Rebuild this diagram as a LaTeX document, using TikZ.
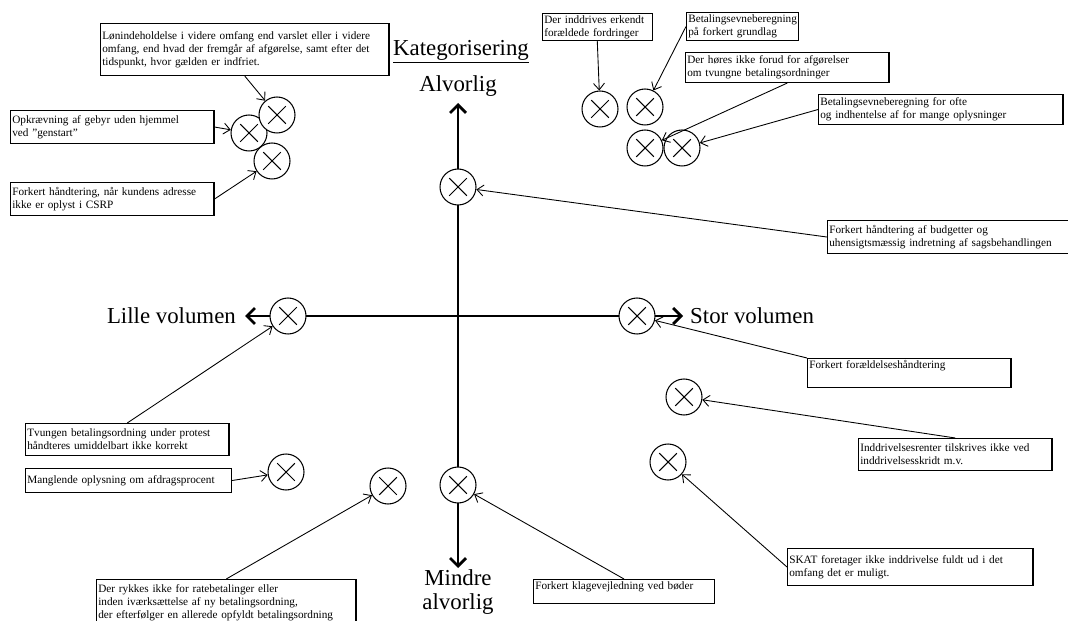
\documentclass[tikz,border=0pt]{standalone}
\usepackage{fontspec}
\setmainfont{Liberation Serif}
\usetikzlibrary{arrows.meta}

\begin{document}
\begin{tikzpicture}[x=0.02cm,y=-0.02cm,
  risk/.style={circle,draw,fill=white,inner sep=0pt,minimum size=0.72cm,line width=0.6pt,
    path picture={\draw ([shift={(45:2.5mm)}]path picture bounding box.center) -- ([shift={(225:2.5mm)}]path picture bounding box.center)
      ([shift={(135:2.5mm)}]path picture bounding box.center) -- ([shift={(-45:2.5mm)}]path picture bounding box.center);}},
  note/.style={draw,anchor=north west,align=left,inner xsep=1pt,inner ysep=1pt,line width=0.6pt,
    font=\fontsize{6.4}{7.5}\selectfont},
  big/.style={font=\fontsize{13}{13.5}\selectfont,align=center},
  axis/.style={line width=1.6pt,{Straight Barb[length=1.6mm,width=3.2mm]}-{Straight Barb[length=1.6mm,width=3.2mm]}},
  link/.style={line width=0.5pt,-{Straight Barb[length=1.3mm,width=2.2mm]}}]
\useasboundingbox (0,0) rectangle (1068,621);

\coordinate (top) at (458,103);
\coordinate (bottom) at (458,568);
\coordinate (left) at (245,316);
\coordinate (right) at (683,316);
\draw[axis] (top) -- (bottom);
\draw[axis] (left) -- (right);

\node[big] at (461,52) (kat) {\underline{Kategorisering}};
\node[big] at (458,86) (alv) {Alvorlig};
\node[big,anchor=east] at (242,316) (lille) {Lille volumen};
\node[big,anchor=west] at (684,316) (stor) {Stor volumen};
\node[big] at (458,592) (mindre) {Mindre\\alvorlig};

\node[risk] at (249,133) (c1) {};
\node[risk] at (277,115) (c2) {};
\node[risk] at (272,161) (c3) {};
\node[risk] at (600,109) (c4) {};
\node[risk] at (645,107) (c5) {};
\node[risk] at (645,148) (c6) {};
\node[risk] at (682,148) (c7) {};
\node[risk] at (458,187) (c8) {};
\node[risk] at (288,316) (c9) {};
\node[risk] at (637,316) (c10) {};
\node[risk] at (684,397) (c11) {};
\node[risk] at (668,462) (c12) {};
\node[risk] at (286,472) (c13) {};
\node[risk] at (388,486) (c14) {};
\node[risk] at (458,485) (c15) {};

\node[note,text width=5.7cm,minimum height=1.04cm] at (100,23) (b1) {Lønindeholdelse i videre omfang end varslet eller i videre\\omfang, end hvad der fremgår af afgørelse, samt efter det\\tidspunkt, hvor gælden er indfriet.};
\node[note,text width=4cm,minimum height=0.66cm] at (10,110) (b2) {Opkrævning af gebyr uden hjemmel\\ved "genstart"};
\node[note,text width=4cm,minimum height=0.66cm] at (10,182) (b3) {Forkert håndtering, når kundens adresse\\ikke er oplyst i CSRP};
\node[note,text width=2.12cm,minimum height=0.5cm] at (542,13) (b4) {Der inddrives erkendt\\forældede fordringer};
\node[note,text width=2.17cm,minimum height=0.56cm] at (686,12) (b5) {Betalingsevneberegning\\på forkert grundlag};
\node[note,text width=4cm,minimum height=0.6cm] at (685,52) (b6) {Der høres ikke forud for afgørelser\\om tvungne betalingsordninger};
\node[note,text width=4.82cm,minimum height=0.6cm] at (818,94) (b7) {Betalingsevneberegning for ofte\\og indhentelse af for mange oplysninger};
\node[note,text width=4.76cm,minimum height=0.66cm] at (827,220) (b8) {Forkert håndtering af budgetter og\\uhensigtsmæssig indretning af sagsbehandlingen};
\node[note,text width=4cm,text depth=10pt] at (807,358) (b9) {Forkert forældelseshåndtering};
\node[note,text width=3.8cm,minimum height=0.64cm] at (858,438) (b10) {Inddrivelsesrenter tilskrives ikke ved\\inddrivelsesskridt m.v.};
\node[note,text width=4.84cm,minimum height=0.74cm] at (787,548) (b11) {SKAT foretager ikke inddrivelse fuldt ud i det\\omfang det er muligt.};
\node[note,text width=4cm,minimum height=0.64cm] at (25,423) (b12) {Tvungen betalingsordning under protest\\håndteres umiddelbart ikke korrekt};
\node[note,text width=4.05cm,minimum height=0.48cm] at (25,468) (b13) {Manglende oplysning om afdragsprocent};
\node[note,text width=5.12cm,minimum height=0.92cm] at (96,579) (b14) {Der rykkes ikke for ratebetalinger eller\\inden iværksættelse af ny betalingsordning,\\der efterfølger en allerede opfyldt betalingsordning};
\node[note,text width=3.55cm,text depth=7pt] at (533,579) (b15) {Forkert klagevejledning ved bøder};

\draw[link] (b1.south) -- (c2);
\draw[link] (b2.east) -- (c1);
\draw[link] (b3.east) -- (c3);
\draw[link] (b4.south) -- (c4);
\draw[link] (b5.west) -- (c5);
\draw[link] (b6.south) -- (c6);
\draw[link] (b7.west) -- (c7);
\draw[link] (b8.west) -- (c8);
\draw[link] (b9.north west) -- (c10);
\draw[link] (b10.north) -- (c11);
\draw[link] (b11.west) -- (c12);
\draw[link] (b12.north) -- (c9);
\draw[link] (b13.east) -- (c13);
\draw[link] (b14.north) -- (c14);
\draw[link] (b15.north) -- (c15);
\end{tikzpicture}
\end{document}
